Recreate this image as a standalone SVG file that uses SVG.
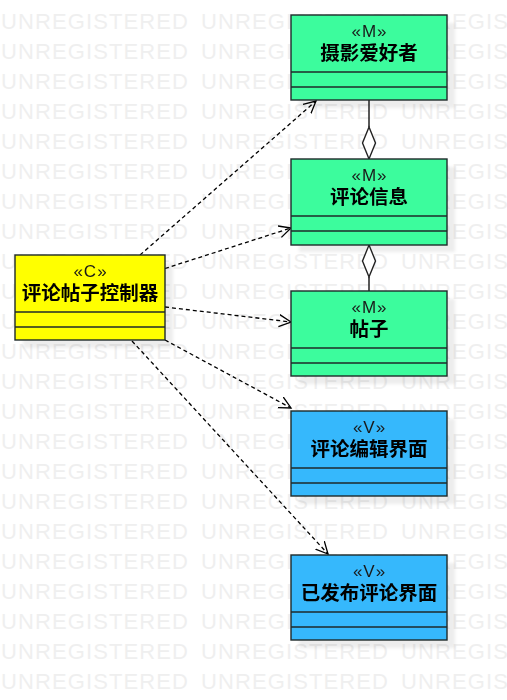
<svg xmlns="http://www.w3.org/2000/svg" width="507" height="700" viewBox="0 0 507 700">
<style>
.wm{font-family:"Liberation Sans",Arial,sans-serif;font-size:22px;fill:#efefef;letter-spacing:1.1px}
.box{stroke:#1e2a2a;stroke-width:1.4}
.m{fill:#3cfc9d}
.v{fill:#36b8fc}
.c{fill:#ffff00}
.sep{stroke:#1e2a2a;stroke-width:1.4}
.sh{fill:#000;opacity:0.07}
.st{font-family:"Liberation Sans",Arial,sans-serif;font-size:17px;letter-spacing:1px;fill:#1a1a1a;text-anchor:middle}
.nm{font-family:"Liberation Sans","Noto Sans CJK SC",sans-serif;font-size:19.5px;font-weight:bold;fill:#000;text-anchor:middle}
.dep{fill:none;stroke:#000;stroke-width:1.3;stroke-dasharray:4 3}
.agg{fill:none;stroke:#222;stroke-width:1.5}
.dia{fill:#fff;stroke:#222;stroke-width:1.4}
</style>
<defs>
<marker id="open" markerUnits="userSpaceOnUse" markerWidth="14" markerHeight="14" refX="12" refY="6" orient="auto" viewBox="0 0 14 12">
<path d="M0,0 L12,6 L0,12" fill="none" stroke="#000" stroke-width="1.3"/>
</marker>
<filter id="blur" x="-10%" y="-10%" width="120%" height="120%"><feGaussianBlur stdDeviation="1.5"/></filter>
</defs>
<rect width="507" height="700" fill="#fff"/>
<g id="watermark">
<text class="wm" y="29"><tspan x="1">UNREGISTERED</tspan><tspan x="201">UNREGISTERED</tspan><tspan x="401">UNREGISTERED</tspan></text>
<text class="wm" y="59"><tspan x="1">UNREGISTERED</tspan><tspan x="201">UNREGISTERED</tspan><tspan x="401">UNREGISTERED</tspan></text>
<text class="wm" y="89"><tspan x="1">UNREGISTERED</tspan><tspan x="201">UNREGISTERED</tspan><tspan x="401">UNREGISTERED</tspan></text>
<text class="wm" y="119"><tspan x="1">UNREGISTERED</tspan><tspan x="201">UNREGISTERED</tspan><tspan x="401">UNREGISTERED</tspan></text>
<text class="wm" y="149"><tspan x="1">UNREGISTERED</tspan><tspan x="201">UNREGISTERED</tspan><tspan x="401">UNREGISTERED</tspan></text>
<text class="wm" y="179"><tspan x="1">UNREGISTERED</tspan><tspan x="201">UNREGISTERED</tspan><tspan x="401">UNREGISTERED</tspan></text>
<text class="wm" y="209"><tspan x="1">UNREGISTERED</tspan><tspan x="201">UNREGISTERED</tspan><tspan x="401">UNREGISTERED</tspan></text>
<text class="wm" y="239"><tspan x="1">UNREGISTERED</tspan><tspan x="201">UNREGISTERED</tspan><tspan x="401">UNREGISTERED</tspan></text>
<text class="wm" y="269"><tspan x="1">UNREGISTERED</tspan><tspan x="201">UNREGISTERED</tspan><tspan x="401">UNREGISTERED</tspan></text>
<text class="wm" y="299"><tspan x="1">UNREGISTERED</tspan><tspan x="201">UNREGISTERED</tspan><tspan x="401">UNREGISTERED</tspan></text>
<text class="wm" y="329"><tspan x="1">UNREGISTERED</tspan><tspan x="201">UNREGISTERED</tspan><tspan x="401">UNREGISTERED</tspan></text>
<text class="wm" y="359"><tspan x="1">UNREGISTERED</tspan><tspan x="201">UNREGISTERED</tspan><tspan x="401">UNREGISTERED</tspan></text>
<text class="wm" y="389"><tspan x="1">UNREGISTERED</tspan><tspan x="201">UNREGISTERED</tspan><tspan x="401">UNREGISTERED</tspan></text>
<text class="wm" y="419"><tspan x="1">UNREGISTERED</tspan><tspan x="201">UNREGISTERED</tspan><tspan x="401">UNREGISTERED</tspan></text>
<text class="wm" y="449"><tspan x="1">UNREGISTERED</tspan><tspan x="201">UNREGISTERED</tspan><tspan x="401">UNREGISTERED</tspan></text>
<text class="wm" y="479"><tspan x="1">UNREGISTERED</tspan><tspan x="201">UNREGISTERED</tspan><tspan x="401">UNREGISTERED</tspan></text>
<text class="wm" y="509"><tspan x="1">UNREGISTERED</tspan><tspan x="201">UNREGISTERED</tspan><tspan x="401">UNREGISTERED</tspan></text>
<text class="wm" y="539"><tspan x="1">UNREGISTERED</tspan><tspan x="201">UNREGISTERED</tspan><tspan x="401">UNREGISTERED</tspan></text>
<text class="wm" y="569"><tspan x="1">UNREGISTERED</tspan><tspan x="201">UNREGISTERED</tspan><tspan x="401">UNREGISTERED</tspan></text>
<text class="wm" y="599"><tspan x="1">UNREGISTERED</tspan><tspan x="201">UNREGISTERED</tspan><tspan x="401">UNREGISTERED</tspan></text>
<text class="wm" y="629"><tspan x="1">UNREGISTERED</tspan><tspan x="201">UNREGISTERED</tspan><tspan x="401">UNREGISTERED</tspan></text>
<text class="wm" y="659"><tspan x="1">UNREGISTERED</tspan><tspan x="201">UNREGISTERED</tspan><tspan x="401">UNREGISTERED</tspan></text>
<text class="wm" y="689"><tspan x="1">UNREGISTERED</tspan><tspan x="201">UNREGISTERED</tspan><tspan x="401">UNREGISTERED</tspan></text>
</g>
<g id="shadows" filter="url(#blur)">
<rect class="sh" x="299" y="23" width="156" height="85"/>
<rect class="sh" x="299" y="167" width="156" height="85"/>
<rect class="sh" x="299" y="299" width="156" height="85"/>
<rect class="sh" x="299" y="419" width="156" height="85"/>
<rect class="sh" x="299" y="563" width="156" height="85"/>
<rect class="sh" x="23" y="263" width="150" height="85"/>
</g>
<g id="connectors">
<line class="dep" x1="140" y1="255" x2="316" y2="101" marker-end="url(#open)"/>
<line class="dep" x1="165" y1="268.5" x2="291" y2="228" marker-end="url(#open)"/>
<line class="dep" x1="165" y1="307" x2="291" y2="322" marker-end="url(#open)"/>
<line class="dep" x1="165" y1="340" x2="291" y2="408" marker-end="url(#open)"/>
<line class="dep" x1="132" y1="341" x2="328" y2="554" marker-end="url(#open)"/>
<line class="agg" x1="369" y1="100" x2="369" y2="127"/>
<polygon class="dia" points="369,127 375.5,143 369,159 362.5,143"/>
<line class="agg" x1="369" y1="277" x2="369" y2="291"/>
<polygon class="dia" points="369,245 375.5,261 369,277 362.5,261"/>
</g>
<g id="node-sheyingaihaozhe">
<rect class="box m" x="291" y="15" width="156" height="85"/>
<line class="sep" x1="291" y1="72" x2="447" y2="72"/>
<line class="sep" x1="291" y1="87" x2="447" y2="87"/>
<text class="st" x="369.5" y="36.5">«M»</text>
<text class="nm" x="369" y="60">摄影爱好者</text>
</g>
<g id="node-pinglunxinxi">
<rect class="box m" x="291" y="159" width="156" height="86"/>
<line class="sep" x1="291" y1="216" x2="447" y2="216"/>
<line class="sep" x1="291" y1="231" x2="447" y2="231"/>
<text class="st" x="369.5" y="180.5">«M»</text>
<text class="nm" x="369" y="204">评论信息</text>
</g>
<g id="node-tiezi">
<rect class="box m" x="291" y="291" width="156" height="85"/>
<line class="sep" x1="291" y1="348" x2="447" y2="348"/>
<line class="sep" x1="291" y1="363" x2="447" y2="363"/>
<text class="st" x="369.5" y="312.5">«M»</text>
<text class="nm" x="369" y="336">帖子</text>
</g>
<g id="node-pinglunbianjijiemian">
<rect class="box v" x="291" y="411" width="156" height="85"/>
<line class="sep" x1="291" y1="468" x2="447" y2="468"/>
<line class="sep" x1="291" y1="483" x2="447" y2="483"/>
<text class="st" x="369.5" y="432.5">«V»</text>
<text class="nm" x="369" y="456">评论编辑界面</text>
</g>
<g id="node-yifabupinglunjiemian">
<rect class="box v" x="291" y="555" width="156" height="85"/>
<line class="sep" x1="291" y1="612" x2="447" y2="612"/>
<line class="sep" x1="291" y1="627" x2="447" y2="627"/>
<text class="st" x="369.5" y="576.5">«V»</text>
<text class="nm" x="369" y="600">已发布评论界面</text>
</g>
<g id="node-pingluntiezikongzhiqi">
<rect class="box c" x="15" y="255" width="150" height="85"/>
<line class="sep" x1="15" y1="312" x2="165" y2="312"/>
<line class="sep" x1="15" y1="327" x2="165" y2="327"/>
<text class="st" x="90.5" y="277">«C»</text>
<text class="nm" x="90" y="300">评论帖子控制器</text>
</g>
</svg>
